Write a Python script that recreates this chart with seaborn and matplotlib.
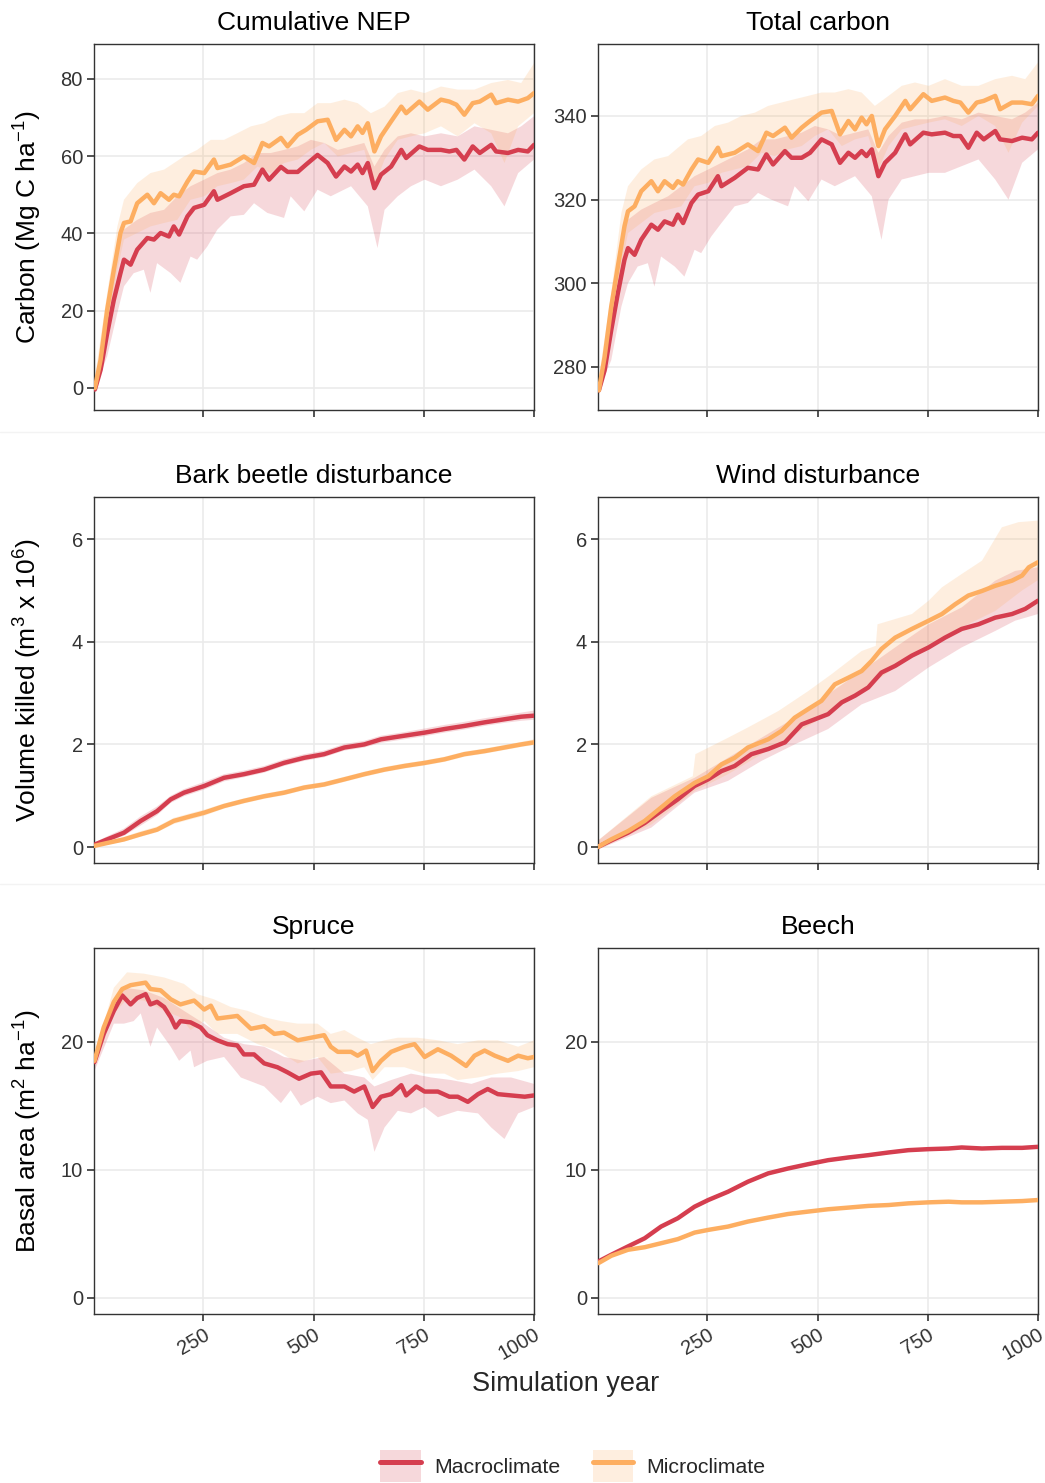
import numpy as np
import pandas as pd
import seaborn as sns
import matplotlib
matplotlib.use("Agg")
import matplotlib.pyplot as plt
from matplotlib.patches import Patch
from matplotlib.lines import Line2D
from matplotlib.legend_handler import HandlerTuple

# ---------------- data ----------------
# Cumulative NEP / Total carbon (shared year grids)
TOP_YEARS = [4, 17, 32, 47, 62, 70, 85, 100, 123, 138, 153, 172, 183, 195, 214, 229, 252, 274, 282, 312,
             342, 365, 384, 399, 426, 441, 464, 483, 509, 532, 551, 570, 585, 600, 611, 623, 638, 653, 676, 699,
             710, 740, 759, 789, 808, 824, 842, 861, 877, 903, 914, 941, 964, 986, 1000]
NEP_MACRO = [-0.4, 4.7, 14.2, 22.8, 29.7, 33.2, 31.9, 35.8, 38.8, 38.4, 40.1, 39.2, 41.8, 39.7, 44.4, 46.6, 47.4, 50.9, 48.7, 50.4,
             52.2, 52.6, 56.5, 53.9, 57.2, 55.9, 55.9, 57.8, 60.3, 58.2, 54.7, 57.3, 56.0, 57.8, 55.6, 58.2, 51.7, 55.2, 57.3, 61.6,
             59.5, 62.5, 61.6, 61.6, 61.2, 61.6, 59.1, 62.5, 60.8, 62.9, 61.2, 60.8, 61.6, 61.2, 62.9]
NEP_MICRO = [0.0, 7.3, 20.3, 30.6, 40.1, 42.7, 43.1, 47.8, 50.0, 47.8, 50.4, 48.7, 50.0, 49.6, 53.4, 56.0, 55.6, 59.1, 56.9, 57.8,
             59.9, 58.2, 63.4, 62.5, 64.7, 62.5, 65.5, 66.8, 69.0, 69.4, 64.2, 66.8, 65.1, 67.7, 66.0, 68.5, 61.2, 65.1, 69.0, 72.8,
             71.1, 74.1, 72.0, 74.6, 74.1, 73.3, 70.7, 73.7, 74.1, 75.9, 73.7, 74.6, 74.1, 75.0, 76.3]
TC_MACRO = [274.4, 279.2, 288.8, 297.6, 305.6, 308.4, 306.8, 310.4, 314.0, 312.8, 314.8, 314.0, 316.4, 314.4, 319.2, 321.2, 322.0, 325.6, 323.2, 325.2,
            327.6, 327.2, 330.8, 328.4, 331.6, 330.0, 330.0, 331.2, 334.4, 333.2, 328.8, 331.2, 330.0, 331.6, 330.4, 332.0, 325.6, 328.8, 331.2, 335.6,
            333.2, 336.0, 335.6, 336.0, 335.2, 335.2, 332.4, 336.0, 334.4, 336.4, 334.4, 334.0, 334.8, 334.4, 336.0]
TC_MICRO = [274.4, 282.4, 294.4, 304.0, 313.6, 317.2, 318.4, 322.0, 324.4, 322.0, 324.4, 322.8, 324.4, 323.6, 327.2, 329.6, 328.8, 332.4, 330.4, 331.2,
            333.2, 331.6, 336.0, 335.2, 337.2, 334.8, 337.2, 338.8, 340.8, 341.2, 335.6, 338.8, 336.8, 339.6, 338.0, 340.0, 332.8, 336.8, 340.0, 343.6,
            341.6, 345.2, 343.6, 344.4, 343.6, 343.2, 340.8, 343.2, 343.6, 344.8, 341.6, 343.2, 343.2, 342.8, 344.8]

TOP_RED_LO_YEARS = [1, 32, 55, 70, 92, 115, 130, 145, 176, 198, 221, 236, 259, 282, 312, 342, 365, 395, 433, 448,
                    479, 509, 539, 585, 623, 645, 661, 691, 721, 752, 789, 827, 865, 903, 933, 964, 1000]
TOP_RED_HI_YEARS = [1, 32, 55, 70, 100, 130, 161, 191, 221, 252, 282, 312, 342, 373, 403, 433, 464, 494, 524, 555,
                    585, 615, 638, 661, 691, 721, 752, 789, 827, 865, 903, 941, 971, 1000]
TOP_ORA_HI_YEARS = [1, 32, 55, 70, 100, 130, 161, 206, 236, 267, 297, 327, 358, 388, 418, 448, 479, 509, 539, 570,
                    600, 630, 661, 691, 721, 752, 789, 827, 865, 903, 941, 971, 1000]
TOP_ORA_LO_YEARS = [1, 32, 55, 70, 100, 130, 161, 191, 221, 252, 282, 312, 342, 373, 403, 433, 464, 494, 524, 555,
                    585, 615, 638, 661, 691, 721, 752, 789, 827, 865, 903, 933, 964, 1000]

NEP_MACRO_LO = [-1.3, 8.2, 19.4, 26.3, 29.7, 30.6, 24.6, 32.3, 29.7, 27.2, 34.0, 33.2, 36.6, 41.0, 44.4, 44.8, 47.8, 45.3, 44.0, 49.6,
                45.7, 51.3, 49.6, 52.2, 47.0, 36.2, 46.1, 49.6, 52.2, 53.9, 52.2, 53.9, 56.5, 52.2, 47.0, 55.6, 59.1]
NEP_MACRO_HI = [0.4, 17.7, 36.6, 41.0, 43.5, 45.3, 46.1, 49.6, 52.2, 53.9, 55.6, 56.5, 58.2, 60.8, 60.8, 61.6, 62.5, 64.2, 63.4, 61.6,
                62.5, 63.4, 57.3, 61.6, 65.1, 65.9, 65.1, 65.9, 65.1, 67.7, 66.8, 65.9, 67.7, 70.3]
NEP_MICRO_HI = [0.4, 24.6, 41.8, 48.7, 53.0, 55.6, 56.5, 59.9, 61.6, 64.2, 64.2, 65.9, 67.7, 68.5, 70.3, 71.1, 71.1, 73.7, 73.7, 74.6,
                73.7, 71.1, 72.8, 76.3, 77.2, 76.3, 78.0, 77.2, 77.2, 78.9, 79.7, 78.9, 84.0]
NEP_MICRO_LO = [-1.0, 15.0, 30.6, 38.4, 40.1, 41.8, 42.7, 43.5, 48.7, 49.6, 52.2, 53.0, 53.9, 57.3, 55.6, 58.2, 59.1, 61.6, 63.4, 59.9,
                60.8, 61.6, 52.2, 59.1, 64.2, 65.1, 65.9, 67.7, 65.1, 68.5, 65.9, 58.2, 67.7, 71.1]

TC_MACRO_LO = [273.6, 281.6, 294.4, 300.0, 304.0, 304.8, 299.2, 306.4, 304.0, 301.6, 308.0, 307.2, 311.2, 314.4, 318.4, 319.2, 321.6, 320.0, 318.4, 323.2,
               319.6, 324.8, 323.2, 325.6, 320.8, 310.4, 320.0, 324.8, 325.6, 326.4, 326.4, 328.0, 329.6, 324.8, 320.0, 328.8, 332.0]
TC_MACRO_HI = [275.2, 291.2, 310.4, 315.2, 317.6, 319.2, 320.8, 323.2, 325.6, 327.2, 328.8, 330.4, 332.0, 334.4, 334.4, 335.2, 336.0, 337.6, 336.8, 335.2,
               336.0, 336.8, 331.2, 335.2, 338.4, 339.2, 339.2, 340.0, 339.2, 340.8, 340.0, 339.2, 340.8, 343.2]
TC_MICRO_HI = [275.2, 297.6, 316.8, 323.2, 327.2, 329.6, 330.4, 334.4, 335.2, 337.6, 338.4, 340.0, 340.8, 342.4, 343.2, 344.0, 344.8, 345.6, 345.6, 346.4,
               345.6, 342.4, 344.8, 347.2, 348.0, 347.2, 348.8, 347.2, 347.2, 348.8, 349.6, 348.8, 352.8]
TC_MICRO_LO = [273.6, 288.8, 304.0, 312.0, 314.4, 316.8, 317.6, 318.4, 323.2, 324.0, 326.4, 327.2, 328.0, 331.2, 330.4, 332.0, 332.8, 335.2, 336.8, 332.8,
               334.4, 335.2, 327.2, 332.8, 336.8, 337.6, 338.4, 339.2, 337.6, 340.0, 337.6, 331.2, 338.4, 342.4]

# Bark beetle disturbance
BB_RED_YEARS = [1, 32, 70, 108, 145, 176, 206, 252, 297, 342, 388, 433, 479, 524, 570, 615, 653, 706, 752, 797, 842, 888, 933, 971, 1000]
BB_MACRO = [0.04, 0.15, 0.28, 0.51, 0.70, 0.93, 1.06, 1.19, 1.35, 1.42, 1.51, 1.64, 1.74, 1.81, 1.94, 2.00, 2.10, 2.17, 2.23, 2.30, 2.36, 2.43, 2.49, 2.54, 2.56]
BB_MACRO_LO = [0.0, 0.10, 0.22, 0.42, 0.62, 0.86, 0.99, 1.12, 1.28, 1.36, 1.45, 1.58, 1.68, 1.75, 1.88, 1.94, 2.03, 2.10, 2.16, 2.23, 2.29, 2.36, 2.42, 2.46, 2.48]
BB_MACRO_HI = [0.08, 0.21, 0.36, 0.60, 0.79, 1.00, 1.13, 1.27, 1.42, 1.49, 1.58, 1.71, 1.81, 1.88, 2.01, 2.07, 2.17, 2.24, 2.31, 2.38, 2.44, 2.51, 2.57, 2.62, 2.66]
BB_ORA_YEARS = [1, 32, 70, 108, 145, 183, 221, 252, 297, 342, 388, 433, 479, 524, 570, 615, 661, 706, 752, 797, 842, 888, 933, 971, 1000]
BB_MICRO = [0.02, 0.08, 0.15, 0.25, 0.34, 0.51, 0.60, 0.67, 0.80, 0.90, 0.99, 1.06, 1.16, 1.22, 1.32, 1.42, 1.51, 1.58, 1.64, 1.71, 1.81, 1.87, 1.94, 2.00, 2.04]
BB_MICRO_LO = [0.0, 0.05, 0.11, 0.20, 0.29, 0.45, 0.54, 0.61, 0.75, 0.85, 0.94, 1.01, 1.11, 1.17, 1.27, 1.37, 1.46, 1.53, 1.59, 1.66, 1.76, 1.82, 1.89, 1.95, 1.99]
BB_MICRO_HI = [0.04, 0.11, 0.20, 0.31, 0.40, 0.57, 0.66, 0.73, 0.85, 0.95, 1.04, 1.11, 1.21, 1.27, 1.37, 1.47, 1.56, 1.63, 1.69, 1.76, 1.86, 1.92, 1.99, 2.05, 2.10]

# Wind disturbance
WD_RED_YEARS = [1, 32, 70, 108, 145, 183, 221, 252, 282, 312, 350, 388, 426, 464, 494, 524, 555, 585, 615, 645,
                676, 714, 752, 789, 827, 865, 903, 941, 971, 1000]
WD_MACRO = [0.0, 0.13, 0.28, 0.47, 0.70, 0.93, 1.19, 1.32, 1.48, 1.58, 1.81, 1.91, 2.04, 2.39, 2.49, 2.59, 2.82, 2.95, 3.11, 3.40,
            3.53, 3.73, 3.89, 4.08, 4.25, 4.34, 4.47, 4.54, 4.64, 4.80]
WD_ORA_YEARS = [1, 32, 70, 108, 145, 176, 221, 252, 282, 312, 342, 388, 418, 448, 479, 509, 539, 570, 600, 623,
                645, 676, 714, 752, 782, 812, 842, 873, 903, 941, 964, 979, 1000]
WD_MICRO = [0.0, 0.15, 0.31, 0.51, 0.77, 0.99, 1.25, 1.38, 1.61, 1.74, 1.94, 2.10, 2.26, 2.52, 2.69, 2.85, 3.17, 3.30, 3.43, 3.63,
            3.86, 4.08, 4.25, 4.41, 4.54, 4.73, 4.90, 4.99, 5.09, 5.19, 5.29, 5.45, 5.55]
WD_RED_BAND_YEARS = [1, 123, 221, 297, 373, 448, 524, 600, 676, 752, 827, 903, 948, 1000]
WD_MACRO_LO = [-0.05, 0.38, 1.06, 1.29, 1.68, 2.00, 2.30, 2.78, 3.04, 3.50, 3.89, 4.21, 4.41, 4.54]
WD_MACRO_HI = [0.12, 0.96, 1.35, 1.74, 2.13, 2.52, 2.98, 3.43, 3.89, 4.34, 4.67, 5.19, 5.38, 5.45]
WD_ORA_HI_YEARS = [1, 123, 217, 223, 297, 342, 411, 479, 532, 600, 632, 636, 714, 752, 782, 827, 873, 918, 956, 1000]
WD_MICRO_HI = [0.12, 0.99, 1.38, 1.81, 2.13, 2.33, 2.65, 3.04, 3.37, 3.82, 3.92, 4.34, 4.54, 4.80, 5.06, 5.32, 5.58, 6.23, 6.33, 6.36]
WD_ORA_LO_YEARS = [1, 123, 221, 297, 373, 448, 524, 600, 676, 752, 827, 903, 964, 1000]
WD_MICRO_LO = [-0.05, 0.44, 1.09, 1.42, 1.81, 2.20, 2.59, 3.04, 3.50, 3.89, 4.28, 4.60, 5.00, 5.20]

# Spruce basal area
SP_RED_YEARS = [3, 24, 47, 66, 85, 100, 119, 130, 145, 161, 176, 187, 198, 221, 244, 259, 282, 305, 327, 342,
                365, 388, 418, 441, 467, 494, 517, 539, 570, 592, 615, 634, 653, 676, 699, 710, 733, 752, 782, 808,
                827, 850, 873, 895, 918, 948, 979, 1000]
SP_MACRO = [18.4, 20.6, 22.4, 23.6, 22.9, 23.4, 23.7, 22.9, 23.1, 22.7, 21.9, 21.1, 21.6, 21.5, 21.1, 20.5, 20.1, 19.8, 19.7, 19.0,
            19.0, 18.3, 18.0, 17.6, 17.1, 17.5, 17.6, 16.5, 16.5, 16.1, 16.5, 14.9, 15.7, 15.9, 16.6, 15.8, 16.5, 16.1, 16.1, 15.7,
            15.7, 15.3, 15.9, 16.3, 15.9, 15.8, 15.7, 15.8]
SP_ORA_YEARS = [3, 24, 47, 66, 85, 119, 130, 153, 176, 198, 229, 252, 267, 282, 305, 327, 358, 388, 411, 433,
                464, 494, 524, 539, 555, 585, 600, 619, 634, 653, 676, 706, 729, 752, 782, 812, 846, 865, 888, 911,
                941, 964, 986, 1000]
SP_MICRO = [18.5, 21.1, 23.1, 24.1, 24.4, 24.6, 24.1, 24.0, 23.3, 22.9, 23.2, 22.5, 22.8, 21.8, 21.9, 22.0, 21.0, 21.2, 20.6, 20.7,
            20.1, 20.3, 20.5, 19.6, 19.2, 19.2, 18.9, 19.3, 17.7, 18.5, 19.2, 19.6, 19.8, 18.8, 19.4, 18.9, 18.1, 18.9, 19.3, 18.9,
            18.5, 18.9, 18.7, 18.8]
SP_RED_HI_YEARS = [3, 47, 70, 115, 161, 206, 252, 297, 342, 388, 433, 479, 524, 570, 615, 638, 676, 721, 767, 812, 858, 903, 948, 1000]
SP_MACRO_HI = [18.7, 22.9, 24.2, 24.0, 23.4, 22.4, 21.4, 20.3, 19.8, 19.6, 18.8, 18.5, 18.8, 17.5, 17.2, 16.5, 17.0, 17.5, 17.2, 17.0, 16.7, 17.2, 17.2, 16.7]
SP_RED_LO_YEARS = [3, 47, 70, 92, 108, 130, 145, 176, 195, 221, 229, 259, 297, 335, 388, 426, 448, 471, 509, 539,
                   570, 600, 623, 638, 661, 691, 721, 752, 782, 827, 873, 903, 933, 964, 1000]
SP_MACRO_LO = [17.7, 21.4, 21.4, 21.6, 22.2, 19.6, 21.1, 19.6, 18.5, 19.3, 18.0, 18.5, 18.8, 17.2, 16.5, 15.2, 16.2, 15.0, 15.7, 15.2,
               15.4, 14.4, 13.9, 11.4, 13.3, 14.6, 14.4, 14.9, 14.1, 14.6, 14.4, 13.3, 12.4, 14.4, 14.9]
SP_ORA_HI_YEARS = [3, 47, 77, 115, 161, 206, 236, 274, 312, 350, 388, 426, 464, 509, 539, 570, 600, 630, 661, 691, 736, 782, 827, 873, 918, 964, 1000]
SP_MICRO_HI = [18.8, 24.2, 25.4, 25.3, 25.0, 24.5, 23.7, 23.3, 22.7, 22.4, 21.9, 21.6, 21.4, 21.4, 20.6, 20.9, 20.3, 19.8, 20.1, 20.3, 20.3, 20.1, 19.8, 20.1, 20.1, 19.6, 20.1]
SP_ORA_LO_YEARS = [3, 47, 77, 115, 161, 198, 221, 252, 282, 327, 373, 418, 464, 509, 539, 585, 615, 634, 661, 706, 752, 797, 827, 873, 918, 964, 1000]
SP_MICRO_LO = [18.0, 22.2, 23.3, 23.2, 22.4, 21.9, 20.9, 21.6, 20.6, 20.6, 19.8, 19.3, 18.3, 18.8, 17.5, 17.7, 18.0, 17.0, 18.0, 18.0, 17.5, 17.5, 17.0, 17.2, 17.5, 17.7, 18.0]

# Beech basal area
BE_YEARS = [3, 32, 70, 108, 145, 183, 221, 252, 297, 342, 388, 433, 479, 524, 570, 615, 661, 706, 752, 797, 827, 873, 918, 964, 1000]
BE_MACRO = [2.85, 3.37, 4.02, 4.66, 5.57, 6.22, 7.12, 7.64, 8.29, 9.07, 9.72, 10.10, 10.44, 10.75, 10.96, 11.14, 11.35, 11.53, 11.61, 11.66, 11.74, 11.66, 11.71, 11.71, 11.79]
BE_MACRO_LO = [2.78, 3.29, 3.93, 4.56, 5.46, 6.11, 7.00, 7.52, 8.17, 8.95, 9.60, 9.98, 10.32, 10.62, 10.83, 11.01, 11.22, 11.40, 11.48, 11.53, 11.61, 11.53, 11.58, 11.58, 11.66]
BE_MACRO_HI = [2.92, 3.45, 4.11, 4.76, 5.68, 6.33, 7.24, 7.76, 8.41, 9.19, 9.84, 10.22, 10.56, 10.88, 11.09, 11.27, 11.48, 11.66, 11.74, 11.79, 11.87, 11.79, 11.84, 11.84, 11.92]
BE_MICRO = [2.72, 3.29, 3.76, 3.96, 4.27, 4.59, 5.10, 5.31, 5.57, 5.96, 6.27, 6.55, 6.74, 6.92, 7.05, 7.18, 7.25, 7.38, 7.46, 7.51, 7.46, 7.46, 7.51, 7.56, 7.64]
BE_MICRO_LO = [2.66, 3.22, 3.69, 3.89, 4.20, 4.51, 5.02, 5.23, 5.49, 5.88, 6.19, 6.47, 6.66, 6.84, 6.97, 7.10, 7.17, 7.30, 7.38, 7.43, 7.38, 7.38, 7.43, 7.48, 7.56]
BE_MICRO_HI = [2.78, 3.36, 3.83, 4.03, 4.34, 4.67, 5.18, 5.39, 5.65, 6.04, 6.35, 6.63, 6.82, 7.00, 7.13, 7.26, 7.33, 7.46, 7.54, 7.59, 7.54, 7.54, 7.59, 7.64, 7.72]

TITLES = ["Cumulative NEP", "Total carbon", "Bark beetle disturbance", "Wind disturbance", "Spruce", "Beech"]
ROW_YLABELS = ["Carbon (Mg C ha$^{-1}$)", "Volume killed (m$^{3}$ x 10$^{6}$)", "Basal area (m$^{2}$ ha$^{-1}$)"]
SCENARIOS = ["Macroclimate", "Microclimate"]
X_TICKS = [250, 500, 750, 1000]

# ---------------- style ----------------
RED = "#D53E4F"
ORANGE = "#FDAE61"
RIB_ALPHA = 0.2

sns.set_theme(style="white")
plt.rcParams["font.family"] = ["Liberation Sans", "DejaVu Sans"]
plt.rcParams["mathtext.fontset"] = "custom"
plt.rcParams["mathtext.rm"] = "Liberation Sans"
plt.rcParams["mathtext.it"] = "Liberation Sans:italic"
plt.rcParams["mathtext.bf"] = "Liberation Sans:bold"

panels = [
    dict(title=TITLES[0], ylim=(-5.7, 89), yticks=[0, 20, 40, 60, 80],
         lines=[(TOP_YEARS, NEP_MACRO), (TOP_YEARS, NEP_MICRO)],
         bands=[(TOP_RED_LO_YEARS, NEP_MACRO_LO, TOP_RED_HI_YEARS, NEP_MACRO_HI),
                (TOP_ORA_LO_YEARS, NEP_MICRO_LO, TOP_ORA_HI_YEARS, NEP_MICRO_HI)]),
    dict(title=TITLES[1], ylim=(269.7, 357.2), yticks=[280, 300, 320, 340],
         lines=[(TOP_YEARS, TC_MACRO), (TOP_YEARS, TC_MICRO)],
         bands=[(TOP_RED_LO_YEARS, TC_MACRO_LO, TOP_RED_HI_YEARS, TC_MACRO_HI),
                (TOP_ORA_LO_YEARS, TC_MICRO_LO, TOP_ORA_HI_YEARS, TC_MICRO_HI)]),
    dict(title=TITLES[2], ylim=(-0.31, 6.82), yticks=[0, 2, 4, 6],
         lines=[(BB_RED_YEARS, BB_MACRO), (BB_ORA_YEARS, BB_MICRO)],
         bands=[(BB_RED_YEARS, BB_MACRO_LO, BB_RED_YEARS, BB_MACRO_HI),
                (BB_ORA_YEARS, BB_MICRO_LO, BB_ORA_YEARS, BB_MICRO_HI)]),
    dict(title=TITLES[3], ylim=(-0.31, 6.82), yticks=[0, 2, 4, 6],
         lines=[(WD_RED_YEARS, WD_MACRO), (WD_ORA_YEARS, WD_MICRO)],
         bands=[(WD_RED_BAND_YEARS, WD_MACRO_LO, WD_RED_BAND_YEARS, WD_MACRO_HI),
                (WD_ORA_LO_YEARS, WD_MICRO_LO, WD_ORA_HI_YEARS, WD_MICRO_HI)]),
    dict(title=TITLES[4], ylim=(-1.25, 27.3), yticks=[0, 10, 20],
         lines=[(SP_RED_YEARS, SP_MACRO), (SP_ORA_YEARS, SP_MICRO)],
         bands=[(SP_RED_LO_YEARS, SP_MACRO_LO, SP_RED_HI_YEARS, SP_MACRO_HI),
                (SP_ORA_LO_YEARS, SP_MICRO_LO, SP_ORA_HI_YEARS, SP_MICRO_HI)]),
    dict(title=TITLES[5], ylim=(-1.25, 27.3), yticks=[0, 10, 20],
         lines=[(BE_YEARS, BE_MACRO), (BE_YEARS, BE_MICRO)],
         bands=[(BE_YEARS, BE_MACRO_LO, BE_YEARS, BE_MACRO_HI),
                (BE_YEARS, BE_MICRO_LO, BE_YEARS, BE_MICRO_HI)]),
]

W, H = 1045, 1483
fig = plt.figure(figsize=(W / 100, H / 100), dpi=100)

col_left = [94, 598]
ax_w = 440
row_top = [44, 497, 948]
ax_h = 366

colors = [RED, ORANGE]
for i, p in enumerate(panels):
    r, c = divmod(i, 2)
    ax = fig.add_axes([col_left[c] / W, 1 - (row_top[r] + ax_h) / H, ax_w / W, ax_h / H])
    # ribbons
    for (ly, lv, hy, hv), col in zip(p["bands"], colors):
        px = list(hy) + list(ly)[::-1]
        py = list(hv) + list(lv)[::-1]
        ax.fill(px, py, color=col, alpha=RIB_ALPHA, lw=0, zorder=2)
    # lines
    for (yrs, vals), col, name in zip(p["lines"], colors, SCENARIOS):
        df = pd.DataFrame({"year": yrs, "value": vals})
        sns.lineplot(data=df, x="year", y="value", color=col, lw=3.2, ax=ax,
                     errorbar=None, sort=False, zorder=3)
    ax.set_xlim(2, 1000)
    ax.set_ylim(*p["ylim"])
    ax.set_xticks(X_TICKS)
    ax.set_yticks(p["yticks"])
    ax.grid(True, color="#EBEBEB", lw=1.2)
    ax.set_axisbelow(True)
    for s in ax.spines.values():
        s.set_visible(True)
        s.set_color("#333333")
        s.set_linewidth(1.0)
    ax.tick_params(axis="both", which="major", direction="out", length=5, width=1.2,
                   color="#333333", labelsize=14.5, labelcolor="#333333", pad=3,
                   left=True, bottom=True)
    ax.set_title(p["title"], fontsize=19, pad=10, color="black")
    ax.set_xlabel("")
    if c == 0:
        ax.set_ylabel(ROW_YLABELS[r], fontsize=19, color="black")
        ax.yaxis.set_label_coords(-0.15, 0.5)
        ax.yaxis.label.set_va("center")
    else:
        ax.set_ylabel("")
    if r < 2:
        ax.tick_params(axis="x", labelbottom=False)
    else:
        ax.set_xticklabels([str(t) for t in X_TICKS])
        for lab in ax.get_xticklabels():
            lab.set_rotation(30)
            lab.set_ha("right")
            lab.set_va("top")
            lab.set_rotation_mode("anchor")

# faint row separators
for yy in [432, 884]:
    fig.add_artist(Line2D([0, 1], [1 - yy / H, 1 - yy / H], transform=fig.transFigure,
                          color="#F3F3F3", lw=1.0))

fig.text(566 / W, 1 - 1384 / H, "Simulation year", ha="center", va="center", fontsize=19.5)

handles = []
for col in colors:
    handles.append((Patch(facecolor=col, alpha=RIB_ALPHA, edgecolor="none"),
                    Line2D([], [], color=col, lw=3.6)))
fig.legend(handles=handles, labels=SCENARIOS, handler_map={tuple: HandlerTuple(ndivide=1)},
           loc="center", bbox_to_anchor=(573 / W, 1 - 1466 / H), ncol=2, frameon=False,
           fontsize=15.3, handlelength=1.9, handleheight=1.9, handletextpad=0.65,
           columnspacing=1.5, borderpad=0)

fig.savefig("out.png", dpi=100)
